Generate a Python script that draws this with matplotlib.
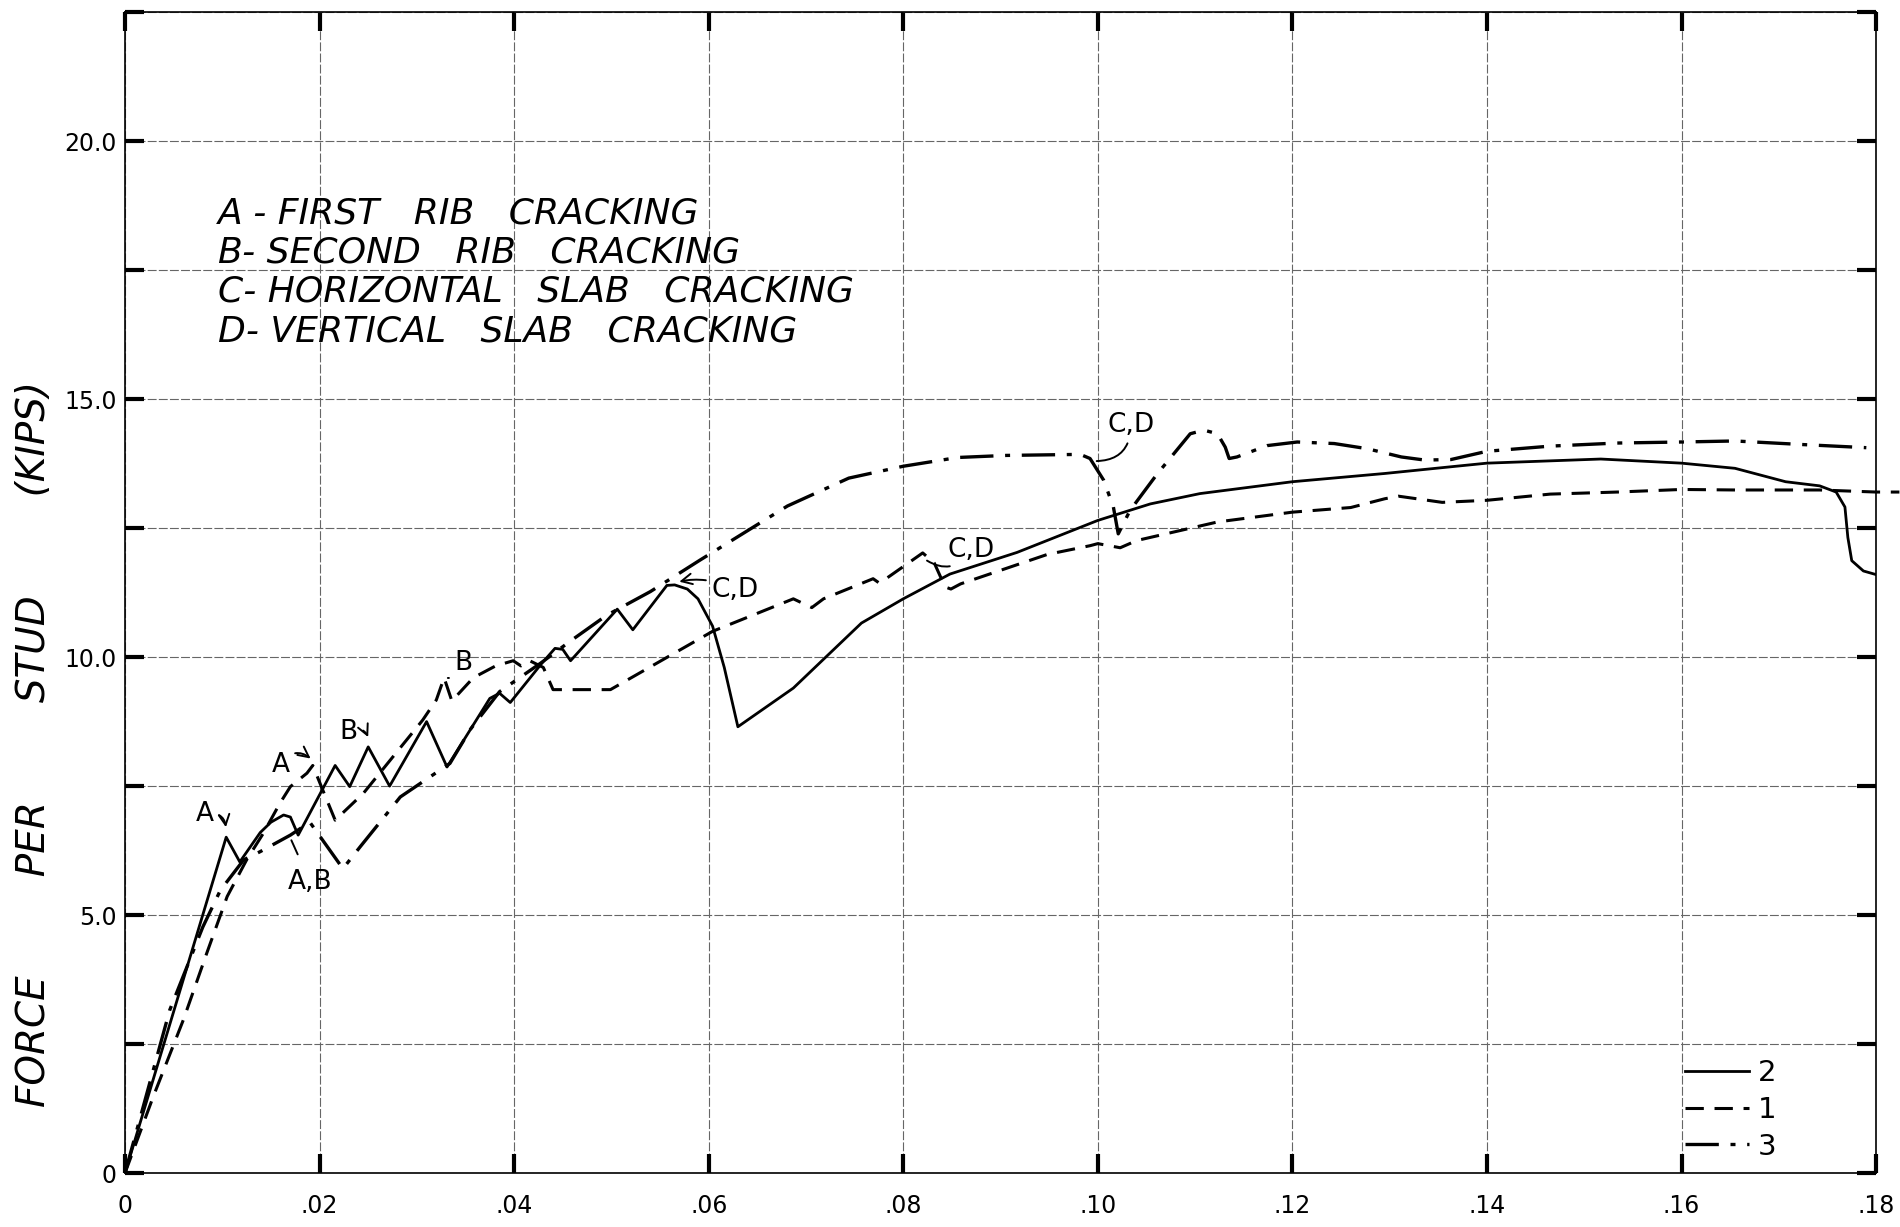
import numpy as np
import matplotlib
matplotlib.use("Agg")
import matplotlib.pyplot as plt

# specimen 2 (solid)
slip_2 = [0, .0104, .0118, .0139, .0150, .0163, .0170, .0178, .0216, .0231, .0250,
          .0272, .0310, .0331, .0375, .0385, .0396, .0428, .0442, .0450, .0458,
          .0506, .0522, .0557, .0565, .0578, .0589, .0604, .0616, .0630, .0687,
          .0757, .0800, .0848, .0917, .1000, .1054, .1105, .1200, .1295, .1363,
          .1400, .1517, .1600, .1655, .1707, .1742, .1759, .1768, .1771, .1775,
          .1787, .1800]
force_2 = [0, 6.51, 6.03, 6.60, 6.80, 6.94, 6.90, 6.55, 7.90, 7.49, 8.26,
           7.50, 8.75, 7.87, 9.20, 9.30, 9.12, 9.87, 10.17, 10.15, 9.93,
           10.93, 10.53, 11.39, 11.40, 11.32, 11.13, 10.60, 9.80, 8.65, 9.40,
           10.66, 11.13, 11.61, 12.03, 12.65, 12.97, 13.17, 13.40, 13.56, 13.69,
           13.76, 13.84, 13.76, 13.66, 13.40, 13.32, 13.20, 12.91, 12.32, 11.87,
           11.67, 11.60]

# specimen 1 (dashed)
slip_1 = [0, .0029, .0060, .0084, .0105, .0125, .0142, .0159, .0170, .0187, .0193,
          .0204, .0216, .0245, .0306, .0320, .0328, .0336, .0358, .0381, .0399,
          .0407, .0416, .0430, .0440, .0499, .0604, .0687, .0706, .0718, .0769,
          .0775, .0780, .0820, .0832, .0843, .0849, .0859, .0948, .0992, .1000,
          .1023, .1040, .1123, .1200, .1260, .1295, .1309, .1354, .1400, .1465,
          .1534, .1600, .1655, .1742, .1800, .1824]
force_1 = [0, 1.48, 2.97, 4.26, 5.36, 6.07, 6.58, 7.16, 7.49, 7.75, 7.90,
           7.39, 6.84, 7.36, 8.78, 9.17, 9.60, 9.15, 9.60, 9.83, 9.93,
           9.83, 9.93, 9.80, 9.37, 9.37, 10.50, 11.13, 10.96, 11.13, 11.52,
           11.44, 11.49, 12.02, 11.82, 11.36, 11.32, 11.42, 11.99, 12.16, 12.20,
           12.12, 12.26, 12.62, 12.81, 12.90, 13.07, 13.12, 13.00, 13.04, 13.16,
           13.20, 13.25, 13.24, 13.24, 13.20, 13.20]

# specimen 3 (dash-dot)
slip_3 = [0, .0046, .0080, .0098, .0122, .0139, .0170, .0190, .0224, .0242, .0283,
          .0334, .0355, .0385, .0427, .0457, .0495, .0540, .0591, .0681, .0744,
          .0800, .0856, .0906, .0982, .0992, .1006, .1016, .1021, .1033, .1061,
          .1095, .1109, .1123, .1131, .1135, .1143, .1174, .1205, .1243, .1277,
          .1312, .1336, .1363, .1400, .1465, .1534, .1600, .1655, .1725, .1790]
force_3 = [0, 3.16, 4.77, 5.48, 6.07, 6.23, 6.55, 6.80, 5.90, 6.33, 7.29,
           7.94, 8.60, 9.33, 9.88, 10.30, 10.81, 11.27, 11.88, 12.93, 13.47,
           13.70, 13.87, 13.91, 13.93, 13.85, 13.43, 12.91, 12.39, 12.84, 13.55,
           14.33, 14.40, 14.33, 14.07, 13.85, 13.88, 14.10, 14.17, 14.14, 14.04,
           13.88, 13.82, 13.83, 13.99, 14.09, 14.15, 14.17, 14.19, 14.12, 14.06]

x_ticks = [0, .02, .04, .06, .08, .10, .12, .14, .16, .18]
x_labels = ['0', '.02', '.04', '.06', '.08', '.10', '.12', '.14', '.16', '.18']
y_ticks = [0, 2.5, 5, 7.5, 10, 12.5, 15, 17.5, 20, 22.5]
y_labels = ['0', '', '5.0', '', '10.0', '', '15.0', '', '20.0', '']

notes = ['A - FIRST   RIB   CRACKING',
         'B- SECOND   RIB   CRACKING',
         'C- HORIZONTAL   SLAB   CRACKING',
         'D- VERTICAL   SLAB   CRACKING']

fig = plt.figure(figsize=(19, 12.27), dpi=100)
ax = fig.add_axes([0.0658, 0.044, 0.9216, 0.946])

ax.plot(slip_2, force_2, color='black', lw=2.0, ls='-', label='2')
ax.plot(slip_1, force_1, color='black', lw=2.2, ls=(0, (6, 3.5)), label='1',
        clip_on=False)
ax.plot(slip_3, force_3, color='black', lw=2.4, ls=(0, (10, 3.5, 1.5, 3.5)), label='3')

ax.set_xlim(0, 0.18)
ax.set_ylim(0, 22.5)
ax.set_xticks(x_ticks)
ax.set_xticklabels(x_labels)
ax.set_yticks(y_ticks)
ax.set_yticklabels(y_labels)
ax.tick_params(axis='both', direction='in', length=14, width=3, labelsize=17,
               top=True, right=True)
ax.tick_params(axis='x', pad=15)
ax.tick_params(axis='y', pad=6)
ax.grid(True, color='#666666', lw=0.8, ls=(0, (8, 2)))
for s in ax.spines.values():
    s.set_linewidth(1.2)

ax.set_ylabel('FORCE        PER        STUD        (KIPS)', fontsize=28,
              style='italic', labelpad=8)
ax.yaxis.set_label_coords(-0.041, 0.37)

# crack legend text
for i, t in enumerate(notes):
    ax.text(0.0096, 18.6 - i * 0.76, t, fontsize=26, style='italic',
            va='center', ha='left')

# crack markers
arrow = dict(arrowstyle='->', color='black', lw=1.4,
             connectionstyle='arc3,rad=-0.6')
hook = dict(arrowstyle='-', color='black', lw=1.4,
            connectionstyle='arc3,rad=-0.5')
ax.annotate('A', xy=(.0104, 6.65), xytext=(.0082, 6.95), fontsize=19,
            ha='center', va='center', arrowprops=arrow)
ax.annotate('A', xy=(.0193, 8.0), xytext=(.0160, 7.9), fontsize=19,
            ha='center', va='center', arrowprops=arrow)
ax.annotate('B', xy=(.0251, 8.4), xytext=(.0230, 8.55), fontsize=19,
            ha='center', va='center', arrowprops=arrow)
ax.annotate('A,B', xy=(.0171, 6.45), xytext=(.0190, 5.65), fontsize=19,
            ha='center', va='center',
            arrowprops=dict(arrowstyle='-', color='black', lw=1.4,
                            shrinkA=9, shrinkB=0))
ax.annotate('B', xy=(.0329, 9.6), xytext=(.0348, 9.88), fontsize=19,
            ha='center', va='center', arrowprops=hook)
ax.annotate('C,D', xy=(.0567, 11.45), xytext=(.0627, 11.3), fontsize=19,
            ha='center', va='center',
            arrowprops=dict(arrowstyle='->', color='black', lw=1.4,
                            connectionstyle='arc3,rad=0.2'))
ax.annotate('C,D', xy=(.0822, 11.9), xytext=(.0870, 12.08), fontsize=19,
            ha='center', va='center', arrowprops=hook)
ax.annotate('C,D', xy=(.0996, 13.8), xytext=(.1034, 14.5), fontsize=19,
            ha='center', va='center',
            arrowprops=dict(arrowstyle='-', color='black', lw=1.4,
                            connectionstyle='arc3,rad=-0.5'))

ax.legend(loc='lower right', bbox_to_anchor=(0.958, -0.012), frameon=False,
          fontsize=21, handlelength=2.2, labelspacing=0.3, handletextpad=0.3)

fig.savefig('out.png', dpi=100)
